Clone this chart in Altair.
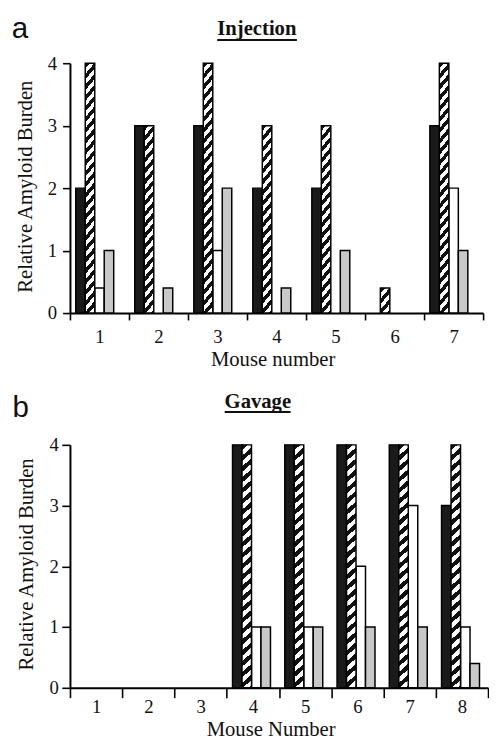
import altair as alt
import pandas as pd

# ---------------- data ----------------
series_names = ["black", "hatched", "white", "gray"]
y_ticks = [0, 1, 2, 3, 4]

inj_mice = [1, 2, 3, 4, 5, 6, 7]
inj_black = [2, 3, 3, 2, 2, 0, 3]
inj_hatched = [4, 3, 4, 3, 3, 0.4, 4]
inj_white = [0.4, 0, 1, 0, 0, 0, 2]
inj_gray = [1, 0.4, 2, 0.4, 1, 0, 1]

gav_mice = [1, 2, 3, 4, 5, 6, 7, 8]
gav_black = [0, 0, 0, 4, 4, 4, 4, 3]
gav_hatched = [0, 0, 0, 4, 4, 4, 4, 4]
gav_white = [0, 0, 0, 1, 1, 2, 3, 1]
gav_gray = [0, 0, 0, 1, 1, 1, 1, 0.4]

FONT = "Liberation Serif"
SANS = "Liberation Sans"
fill_colors = {"black": "#1a1a1a", "white": "#ffffff", "gray": "#c8c8c8"}


def to_long(mice, cols):
    rows = []
    for s, vals in zip(series_names, cols):
        for m, v in zip(mice, vals):
            rows.append({"mouse": m, "series": s, "value": v})
    return pd.DataFrame(rows)


def hatch(w, h, period=11.0, frac=0.5):
    """Diagonal '/' stripes as a linear gradient in bbox units."""
    total = w + h
    pt = period / total
    stops = []
    k = 0
    while k * pt < 1:
        a = k * pt
        b = min(a + frac * pt, 1.0)
        c = min((k + 1) * pt, 1.0)
        stops += [(a, "#111111"), (b, "#111111"), (b, "#ffffff"), (c, "#ffffff")]
        k += 1
    d = w * w + h * h
    return {
        "gradient": "linear",
        "x1": 0, "y1": 0,
        "x2": w * (w + h) / d, "y2": h * (w + h) / d,
        "stops": [{"offset": float(o), "color": c} for o, c in stops],
    }


def panel(df, mice, width, height, nslots, po, letter, title, xtitle, p):
    slots = series_names + (["pad"] if nslots == 5 else [])
    x = alt.X(
        "mouse:O",
        scale=alt.Scale(domain=mice, paddingInner=0, paddingOuter=0),
        axis=alt.Axis(
            title=xtitle, labelAngle=0, tickBand="extent", tickSize=p["xtick"],
            labelPadding=p["xlabpad"], titleX=p["xtitlex"], titleY=p["xtitley"],
            titleBaseline="alphabetic", titleAlign="center",
            labelFont=FONT, titleFont=FONT, labelFontSize=19, titleFontSize=21,
            titleFontWeight="normal", labelColor="#111", titleColor="#111",
            domainColor="black", tickColor="black", domainWidth=2, tickWidth=1.6,
        ),
    )
    xo = alt.XOffset(
        "series:N",
        scale=alt.Scale(domain=slots, paddingInner=0, paddingOuter=po),
    )
    y = alt.Y(
        "value:Q",
        scale=alt.Scale(domain=[0, 4], nice=False),
        axis=alt.Axis(
            values=y_ticks, format="d", title="Relative Amyloid Burden", grid=False,
            tickSize=p["ytick"], labelPadding=p["ylabpad"],
            titleX=p["ytitlex"], titleY=p["ytitley"], titleBaseline="alphabetic",
            labelFont=FONT, titleFont=FONT, labelFontSize=19, titleFontSize=21,
            titleFontWeight="normal", labelColor="#111", titleColor="#111",
            domainColor="black", tickColor="black", domainWidth=2, tickWidth=1.6,
        ),
    )
    base = alt.Chart(df)
    solid = base.transform_filter(
        "datum.series != 'hatched' && datum.value > 0"
    ).mark_bar(stroke="black", strokeWidth=1.5).encode(
        x=x, xOffset=xo, y=y,
        fill=alt.Fill(
            "series:N",
            scale=alt.Scale(domain=list(fill_colors.keys()),
                            range=list(fill_colors.values())),
            legend=None,
        ),
    )
    layers = [solid]
    band = width / len(mice)
    bar_w = band / (len(slots) + 2 * po)
    hvals = sorted(set(df[(df.series == "hatched") & (df.value > 0)].value))
    for v in hvals:
        h = v * height / 4.0
        layers.append(
            base.transform_filter(
                f"datum.series == 'hatched' && datum.value == {v}"
            ).mark_bar(fill=hatch(bar_w, h), stroke="black", strokeWidth=1.5).encode(
                x=x, xOffset=xo, y=y
            )
        )
    one = pd.DataFrame({"t": [title]})
    # invisible white anchor fixing the chart's top-left extent
    anchor = alt.Chart(one).mark_rule(color="white", strokeWidth=1).encode(
        x=alt.value(-62.5), x2=alt.value(-61.5), y=alt.value(p["ancy"])
    )
    lab = alt.Chart(pd.DataFrame({"t": [letter]})).mark_text(
        font=SANS, fontSize=30, align="left", baseline="alphabetic", color="#111"
    ).encode(text="t:N", x=alt.value(p["letx"]), y=alt.value(p["lety"]))
    ttl = alt.Chart(one).mark_text(
        font=FONT, fontSize=21, fontWeight="bold", align="center",
        baseline="alphabetic", color="#111"
    ).encode(text="t:N", x=alt.value(p["tx"]), y=alt.value(p["ty"]))
    und = alt.Chart(one).mark_rule(color="#111", strokeWidth=2).encode(
        x=alt.value(p["ux1"]), x2=alt.value(p["ux2"]), y=alt.value(p["uy"])
    )
    layers += [anchor, lab, ttl, und]
    return alt.layer(*layers).properties(width=width, height=height)


pa = panel(
    to_long(inj_mice, [inj_black, inj_hatched, inj_white, inj_gray]),
    inj_mice, 420, 254, 4, 0.61, "a", "Injection", "Mouse number",
    dict(xtick=7, xlabpad=8, xtitlex=206, xtitley=53, ytick=7.5, ylabpad=6,
         ytitlex=-39, ytitley=125, letx=-59.3, lety=-25.3, ancy=-48.5,
         tx=190, ty=-28.7, ux1=149.7, ux2=230.7, uy=-23.7),
)
pb = panel(
    to_long(gav_mice, [gav_black, gav_hatched, gav_white, gav_gray]),
    gav_mice, 425, 247, 5, 0.655, "b", "Gavage", "Mouse Number",
    dict(xtick=10, xlabpad=0, xtitlex=204, xtitley=48, ytick=8.3, ylabpad=3.5,
         ytitlex=-38.5, ytitley=121, letx=-58.5, lety=-28.3, ancy=-20,
         tx=191, ty=-37.7, ux1=157.3, ux2=224.3, uy=-33.3),
)

chart = alt.vconcat(pa, pb, spacing=134, bounds="flush").properties(
    padding={"left": 0, "top": 0, "right": 0, "bottom": 0}
).configure_view(stroke=None)

chart.save("out.html", embed_options={"renderer": "svg", "actions": False})
